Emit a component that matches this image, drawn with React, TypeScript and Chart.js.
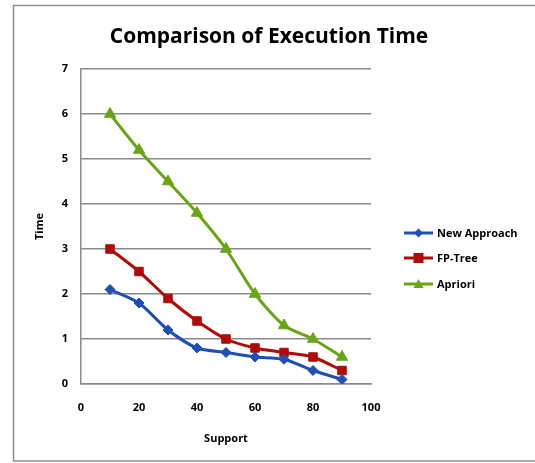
import React, { useEffect, useRef } from "react";
import { Chart, registerables } from "chart.js";

Chart.register(...registerables);

const supportValues = [10, 20, 30, 40, 50, 60, 70, 80, 90];
const newApproach = [2.1, 1.8, 1.2, 0.8, 0.7, 0.6, 0.55, 0.3, 0.1];
const fpTree = [3.0, 2.5, 1.9, 1.4, 1.0, 0.8, 0.7, 0.6, 0.3];
const apriori = [6.0, 5.2, 4.5, 3.8, 3.0, 2.0, 1.3, 1.0, 0.6];
const seriesNames = ["New Approach", "FP-Tree", "Apriori"];
const seriesColors = ["#1f4fb5", "#b00a0a", "#6aa516"];
const seriesMarkers = ["rectRot", "rect", "triangle"];
const markerRadius = [5, 6, 6.5];
const chartTitle = "Comparison of Execution Time";

const FONT = "'Open Sans', Lato, sans-serif";

const toPoints = (vals: number[]) => vals.map((v, i) => ({ x: supportValues[i], y: v }));

const decorPlugin = {
  id: "decor",
  afterDraw(chart: any) {
    const ctx = chart.ctx as CanvasRenderingContext2D;
    ctx.save();
    // outer frame
    ctx.strokeStyle = "#8f8f8f";
    ctx.lineWidth = 1.5;
    ctx.strokeRect(13.5, 5.5, 560, 455.5);
    // title
    ctx.fillStyle = "#000";
    ctx.font = "bold 21px " + FONT;
    ctx.textAlign = "center";
    ctx.textBaseline = "middle";
    ctx.fillText(chartTitle, 269, 37);
    // legend
    const rows = [233, 258, 284];
    chart.data.datasets.forEach((ds: any, i: number) => {
      const y = rows[i];
      ctx.strokeStyle = ds.borderColor;
      ctx.lineWidth = 3;
      ctx.beginPath();
      ctx.moveTo(404, y);
      ctx.lineTo(433, y);
      ctx.stroke();
      ctx.fillStyle = ds.borderColor;
      ctx.strokeStyle = ds.borderColor;
      ctx.lineWidth = 1;
      const r = i === 0 ? 4.5 : 5;
      ctx.beginPath();
      if (i === 0) {
        ctx.moveTo(418.5, y - r);
        ctx.lineTo(418.5 + r, y);
        ctx.lineTo(418.5, y + r);
        ctx.lineTo(418.5 - r, y);
      } else if (i === 1) {
        ctx.rect(418.5 - r, y - r, 2 * r, 2 * r);
      } else {
        ctx.moveTo(418.5, y - r);
        ctx.lineTo(418.5 + r, y + r * 0.8);
        ctx.lineTo(418.5 - r, y + r * 0.8);
      }
      ctx.closePath();
      ctx.fill();
      ctx.fillStyle = "#000";
      ctx.font = "bold 11px " + FONT;
      ctx.textBaseline = "middle";
      ctx.textAlign = "left";
      ctx.fillText(ds.label, 437, y + 0.5);
    });
    ctx.restore();
  },
};

export default function App() {
  const ref = useRef<HTMLCanvasElement | null>(null);
  useEffect(() => {
    if (!ref.current) return;
    const data = [newApproach, fpTree, apriori];
    const chart = new Chart(ref.current, {
      type: "line",
      data: {
        datasets: data.map((vals, i) => ({
          label: seriesNames[i],
          data: toPoints(vals),
          borderColor: seriesColors[i],
          backgroundColor: seriesColors[i],
          borderWidth: 3,
          pointStyle: seriesMarkers[i] as any,
          pointRadius: markerRadius[i],
          pointBorderWidth: 1,
          tension: 0.25,
          cubicInterpolationMode: "default",
        })),
      },
      options: {
        responsive: false,
        animation: false,
        layout: { padding: { left: 20, right: 164, top: 69, bottom: 8 } },
        plugins: {
          legend: { display: false },
          tooltip: { enabled: false },
          title: { display: false },
        },
        scales: {
          x: {
            type: "linear",
            min: 0,
            max: 100,
            ticks: {
              stepSize: 20,
              color: "#000",
              font: { family: FONT, size: 11, weight: "bold" },
              padding: 17,
              maxRotation: 0,
            },
            grid: { display: false, drawTicks: false },
            border: { display: true, color: "#8a8a8a", width: 1.5 },
            title: {
              display: true,
              text: "Support",
              color: "#000",
              font: { family: FONT, size: 11, weight: "bold" },
              padding: { top: 0, bottom: 10 },
            },
            afterFit: (s: any) => {
              s.height = 71;
            },
          },
          y: {
            min: 0,
            max: 7,
            ticks: {
              stepSize: 1,
              color: "#000",
              font: { family: FONT, size: 11, weight: "bold" },
              padding: 13,
            },
            grid: { color: "#8a8a8a", lineWidth: 1.5, drawTicks: false },
            border: { display: true, color: "#8a8a8a", width: 1.5 },
            title: {
              display: true,
              text: "Time",
              color: "#000",
              font: { family: FONT, size: 11, weight: "bold" },
              padding: { top: 13, bottom: 0 },
            },
            afterFit: (s: any) => {
              s.width = 61;
            },
          },
        },
      },
      plugins: [decorPlugin],
    });
    return () => chart.destroy();
  }, []);
  return (
    <div style={{ position: "absolute", left: 0, top: 0, width: 535, height: 463, background: "#fff" }}>
      <canvas ref={ref} width={535} height={463} style={{ width: 535, height: 463, display: "block" }} />
    </div>
  );
}
